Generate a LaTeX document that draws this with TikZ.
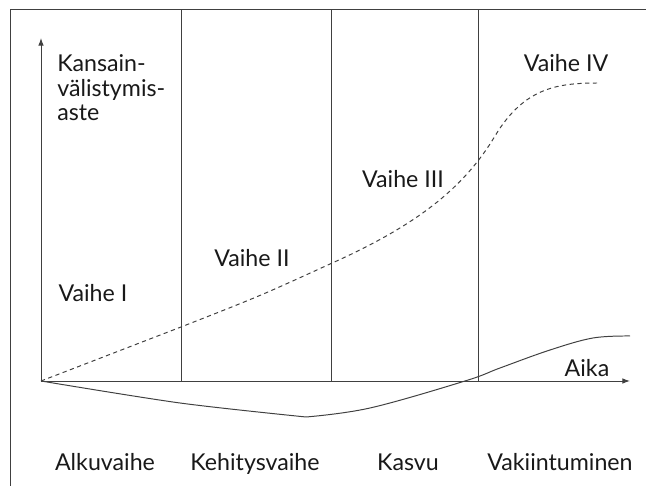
\documentclass[tikz,border=0pt]{standalone}
\usepackage{fontspec}
\setmainfont{Lato}
\usetikzlibrary{arrows.meta}
\tikzset{ln/.style={line width=0.7pt,black!75},tip/.style={-{Latex[length=5.5pt,width=4pt]}},
lbl/.style={anchor=base,inner sep=0pt,text=black!90}}

\begin{document}
\begin{tikzpicture}[x=0.025cm,y=0.025cm,font=\fontsize{16.5pt}{17.7pt}\selectfont]
\useasboundingbox(0,0)rectangle(646,486);
\draw[ln](10,0)--(10,477)--(646,477);
\foreach\x in{181,331,478}{\draw[ln](\x,105)--(\x,477);}
\coordinate(O)at(41,105);\coordinate(xend)at(630,105);\coordinate(yend)at(41,448);
\draw[ln,tip](O)--(xend);\draw[ln,tip](O)--(yend);
\draw[ln,dash pattern=on 3pt off 2.5pt](O)--(181,159)..controls(260,190)..(330,222)
  ..controls(420,262)and(465,300)..(495,350)..controls(525,400)and(560,403)..(600,403);
\draw[ln]plot[smooth,tension=0.5]coordinates{(41,105)(180,83)(306,69)};
\draw[ln]plot[smooth,tension=0.6]coordinates{(306,69)(370,78)(465,105)(500,118)(550,136)(593,148)(630,150)};
\node[lbl,anchor=north west,align=left](aste)at(57,432){Kansain-\\välistymis-\\aste};
\node[lbl](aika)at(587,109){Aika};
\foreach\x/\y/\t/\n in{93/184/I/v1,252/219/II/v2,403/298/III/v3,566/414/IV/v4}{\node[lbl](\n)at(\x,\y){Vaihe \t};}
\foreach\x/\t/\n in{105/Alkuvaihe/alku,255/Kehitysvaihe/kehitys,408/Kasvu/kasvu,560/Vakiintuminen/vakiin}{\node[lbl](\n)at(\x,15){\t};}
\end{tikzpicture}
\end{document}
